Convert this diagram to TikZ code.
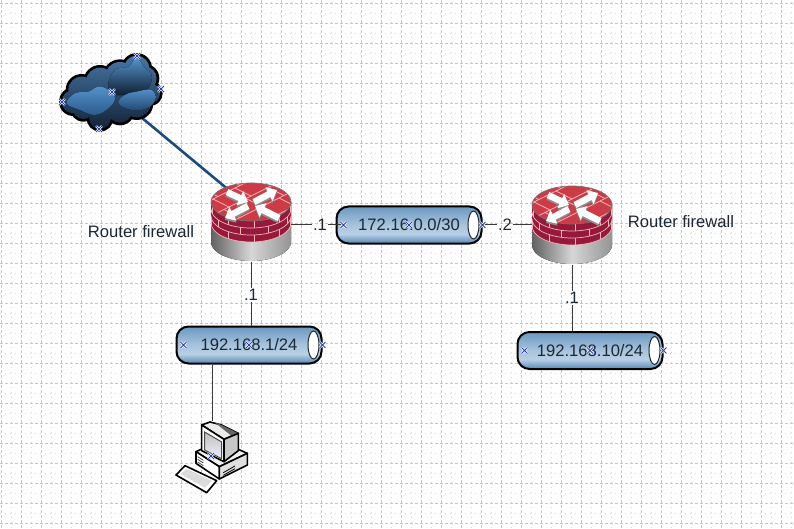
\documentclass[tikz,border=0pt]{standalone}
\usepackage{fontspec}
\setmainfont{Liberation Sans}
\usetikzlibrary{arrows.meta,shapes.misc}
\definecolor{netInk}{HTML}{1B2733}
\definecolor{netLine}{HTML}{3A3A3A}
\definecolor{netUplink}{HTML}{1F4A80}
\definecolor{netMark}{HTML}{2A3FB0}
\definecolor{netGrid}{HTML}{C6C6C6}
\definecolor{netDot}{HTML}{D8D8D8}
\definecolor{fwRed}{HTML}{CC3B46}
\definecolor{fwBrick}{HTML}{96183A}
\definecolor{fwJoint}{HTML}{F2B4B4}
\definecolor{tubeLow}{HTML}{5587B8}
\definecolor{tubeHigh}{HTML}{B8D0E4}
\definecolor{tubeMid}{HTML}{A8C4DC}
\definecolor{tubeTop}{HTML}{6B98C2}
\definecolor{cloudTop}{HTML}{4A7CAE}
\definecolor{cloudMid}{HTML}{2A5480}
\definecolor{cloudLow}{HTML}{0F1E30}
\definecolor{puffHigh}{HTML}{5492CA}
\definecolor{puffLow}{HTML}{2A5A8C}
\pgfdeclareverticalshading{tubefill}{100bp}{
  color(0bp)=(tubeLow);
  color(25bp)=(tubeLow);
  color(38bp)=(tubeHigh);
  color(50bp)=(tubeMid);
  color(75bp)=(tubeTop);
  color(100bp)=(tubeTop)}
\newcommand{\cloudlobes}{100/185/35,125/150/40,180/125/42,240/110/44,290/85/38,315/115/35,
  330/160/30,290/190/42,240/212/36,180/235/32,130/205/32,200/180/60}
\tikzset{
  every picture/.style={x=1pt,y=1pt},
  every node/.style={font=\fontsize{16.6}{18}\selectfont, text=netInk},
  net tube/.style={draw=black, line width=2pt, rounded corners=12pt,
    shading=tubefill, minimum width=145pt, minimum height=37pt,
    inner sep=0pt, text width=118pt, align=center},
  net tube end/.style={draw=netInk, line width=1pt, fill=white},
  net link/.style={draw=netLine, line width=1pt},
  net uplink/.style={draw=netUplink, line width=2.6pt},
  net ip/.style={inner sep=1pt},
  net box/.style={minimum width=80pt, minimum height=79pt, inner sep=0pt},
  sel mark/.style={cross out, draw=netMark, line width=.9pt,
    preaction={draw=white, line width=2.2pt}, minimum size=5pt, inner sep=0pt},
  fw joint/.style={draw=fwJoint, line width=.7pt},
  fw arrow/.style={-{Triangle[length=9pt,width=15pt]}, line width=6.5pt},
  pc edge/.style={draw=black, line width=1.6pt, line join=round},
  pics/firewall/.style={code={
    \fill[left color=black!62, right color=black!42, middle color=black!16]
      (-40,0) -- (-40,-40) arc[start angle=180,end angle=360,x radius=40,y radius=19]
      -- (40,0) -- cycle;
    \fill[fwBrick] (-40,0) -- (-40,-21) arc[start angle=180,end angle=360,x radius=40,y radius=19]
      -- (40,0) -- cycle;
    \foreach \yo in {7,14,21}
      \draw[fw joint] (-40,-\yo) arc[start angle=180,end angle=360,x radius=40,y radius=19];
    \foreach \a in {195,235,275,315,350}
      \draw[fw joint] ({40*cos(\a)},{19*sin(\a)}) -- ++(0,-7);
    \foreach \a in {215,255,295,335}
      \draw[fw joint] ({40*cos(\a)},{19*sin(\a)-7}) -- ++(0,-7);
    \foreach \a in {190,235,275,315,350}
      \draw[fw joint] ({40*cos(\a)},{19*sin(\a)-14}) -- ++(0,-7);
    \fill[fwRed] (0,0) ellipse[x radius=40,y radius=19];
    \begin{scope}
      \clip (0,0) ellipse[x radius=40,y radius=19];
      \foreach \o/\s in {-26/0,-10/11,6/0,22/11}
        \draw[fw joint] (-50,{-25+\o}) -- (50,{25+\o});
      \foreach \o/\s in {-42/11,-26/0,-10/11,6/0,22/11}
        \foreach \t in {-44,-22,...,44}
          \draw[fw joint] ({\t+\s},{.5*(\t+\s)+\o}) -- ++(-16,8);
    \end{scope}
    \draw[black!55, line width=.7pt] (0,0) ellipse[x radius=40,y radius=19];
    \draw[fw arrow, black!45] (-24,8) -- (-3,-2);
    \draw[fw arrow, black!45] (3,-2) -- (26,10);
    \draw[fw arrow, black!45] (-3,-6) -- (-26,-18);
    \draw[fw arrow, black!45] (28,-18) -- (4,-6);
    \draw[fw arrow, white] (-24,10) -- (-3,0);
    \draw[fw arrow, white] (3,0) -- (26,12);
    \draw[fw arrow, white] (-3,-4) -- (-26,-16);
    \draw[fw arrow, white] (28,-16) -- (4,-4);
  }}
}

\begin{document}
\begin{tikzpicture}
  \useasboundingbox (0,0) rectangle (794,528);
  \fill[white] (0,0) rectangle (794,528);

  % grid of the drawing sheet
  \foreach \x in {11,31,...,791}
    \draw[netDot, line width=.8pt, dash pattern=on 1pt off 4pt] (\x,0) -- (\x,528);
  \foreach \y in {15,35,...,515}
    \draw[netDot, line width=.8pt, dash pattern=on 1pt off 4pt] (0,\y) -- (794,\y);
  \foreach \x in {1,21,...,781}
    \draw[netGrid, line width=.8pt, dash pattern=on 3pt off 2pt] (\x,0) -- (\x,528);
  \foreach \y in {5,25,...,525}
    \draw[netGrid, line width=.8pt, dash pattern=on 3pt off 2pt] (0,\y) -- (794,\y);

  \node[net box] (cloud) at (112,435) {};
  \node[net box] (fwleft) at (251,305.5) {};
  \node[net box] (fwright) at (572,303) {};
  \node[net box, minimum width=71pt, minimum height=71pt] (pc) at (212,71) {};

  \node[net tube] (tubewan) at (409,303) {172.16.0.0/30};
  \node[net tube] (tubelan) at (249,183) {192.168.1/24};
  \node[net tube] (tubedmz) at (590,177.5) {192.168.10/24};
  \foreach \t in {tubewan,tubelan,tubedmz}
    \draw[net tube end] ([xshift=-9pt]\t.east) ellipse[x radius=5.5,y radius=14];

  \node[net ip] (ipa) at (320,303) {.1};
  \node[net ip] (ipb) at (505,303) {.2};
  \node[net ip] (ipc) at (251,233) {.1};
  \node[net ip] (ipd) at (572,230) {.1};
  \node (fwleftname) at (141,296) {Router firewall};
  \node (fwrightname) at (681,306) {Router firewall};

  \draw[net uplink] (cloud.center) -- ([yshift=14pt]fwleft.center);
  \draw[net link] (fwleft.east |- ipa.west) -- (ipa.west);
  \draw[net link] (ipa.east) -- ([xshift=8pt]tubewan.west);
  \draw[net link] (tubewan.east) -- (ipb.west);
  \draw[net link] (ipb.east) -- (fwright.west |- ipb.east);
  \draw[net link] (fwleft.south) -- (ipc.north);
  \draw[net link] (ipc.south) -- (ipc.south |- tubelan.north);
  \draw[net link] (fwright.south) -- (ipd.north);
  \draw[net link] (ipd.south) -- (ipd.south |- tubedmz.north);
  \draw[net link] (pc.north |- tubelan.south) -- (pc.north);

  \pic at (251,326) {firewall};
  \pic at (572,323) {firewall};

  % cloud, points read on a 3x raster
  \begin{scope}[shift={(40,488)},x=.3333pt,y=-.3333pt]
    \foreach \x/\y/\r in \cloudlobes
      \fill[black] (\x,\y) circle[radius={(\r+8)/3*1pt}];
    \begin{scope}
      \clip \foreach \x/\y/\r in \cloudlobes {(\x,\y) circle[radius={\r/3*1pt}]};
      \shade[top color=cloudTop, middle color=cloudMid, bottom color=cloudLow] (40,30) rectangle (380,280);
    \end{scope}
    \fill[top color=puffHigh, bottom color=cloudLow]
      plot[smooth cycle, tension=.7] coordinates {(205,130) (225,90) (265,80) (290,55) (315,85)
        (335,105) (325,145) (290,155) (250,165) (215,160)};
    \fill[top color=puffHigh, bottom color=puffLow]
      plot[smooth cycle, tension=.7] coordinates {(80,190) (105,160) (145,155) (175,140) (205,150)
        (225,175) (205,205) (165,225) (120,210)};
    \fill[top color=puffHigh, bottom color=puffLow!80!black]
      plot[smooth cycle, tension=.7] coordinates {(235,190) (255,165) (290,155) (335,150) (345,180)
        (320,205) (275,210)};
  \end{scope}

  % workstation, same raster
  \begin{scope}[shift={(160,118)},x=.3333pt,y=-.3333pt]
    \draw[pc edge, fill=black!6] (108,125) -- (130,115) -- (235,118) -- (262,130) -- (178,170) -- cycle;
    \draw[pc edge, fill=white] (108,125) -- (178,170) -- (178,207) -- (108,160) -- cycle;
    \draw[pc edge, fill=black!12] (178,170) -- (262,130) -- (262,165) -- (178,207) -- cycle;
    \draw[pc edge, fill=black!8] (125,45) -- (150,36) -- (185,45) -- (235,70) -- (192,88) -- cycle;
    \fill[black!60] (165,38) -- (185,45) -- (235,70) -- (215,78) -- cycle;
    \draw[pc edge, fill=black!22] (192,88) -- (235,70) -- (235,122) -- (192,155) -- cycle;
    \draw[pc edge, fill=white] (125,45) -- (192,88) -- (192,155) -- (125,122) -- cycle;
    \draw[black!70, line width=1pt, top color=black!25, bottom color=blue!6] (134,66) -- (185,96)
      -- (185,146) -- (134,120) -- cycle;
    \draw[black, line width=.8pt] (190,188) -- (225,168) (190,196) -- (225,176);
    \foreach \yo in {140,148,156}
      \draw[black!70, line width=.8pt] (113,\yo) -- (130,{\yo+11});
    \draw[pc edge, fill=white] (48,195) -- (75,167) -- (170,212) -- (140,248) -- cycle;
    \fill[black!14] (62,192) -- (80,177) -- (155,212) -- (135,233) -- cycle;
  \end{scope}

  % handles left on the shapes
  \foreach \t in {tubewan,tubelan,tubedmz} {
    \node[sel mark] (\t west) at ([xshift=8pt]\t.west) {};
    \node[sel mark] (\t mid) at (\t.center) {};
    \node[sel mark] (\t east) at (\t.east) {};
  }
  \foreach \i/\x/\y in {1/62/426,2/112/436,3/137/472,4/161/439,5/99/399,6/211/72}
    \node[sel mark] (handle\i) at (\x,\y) {};
\end{tikzpicture}
\end{document}
